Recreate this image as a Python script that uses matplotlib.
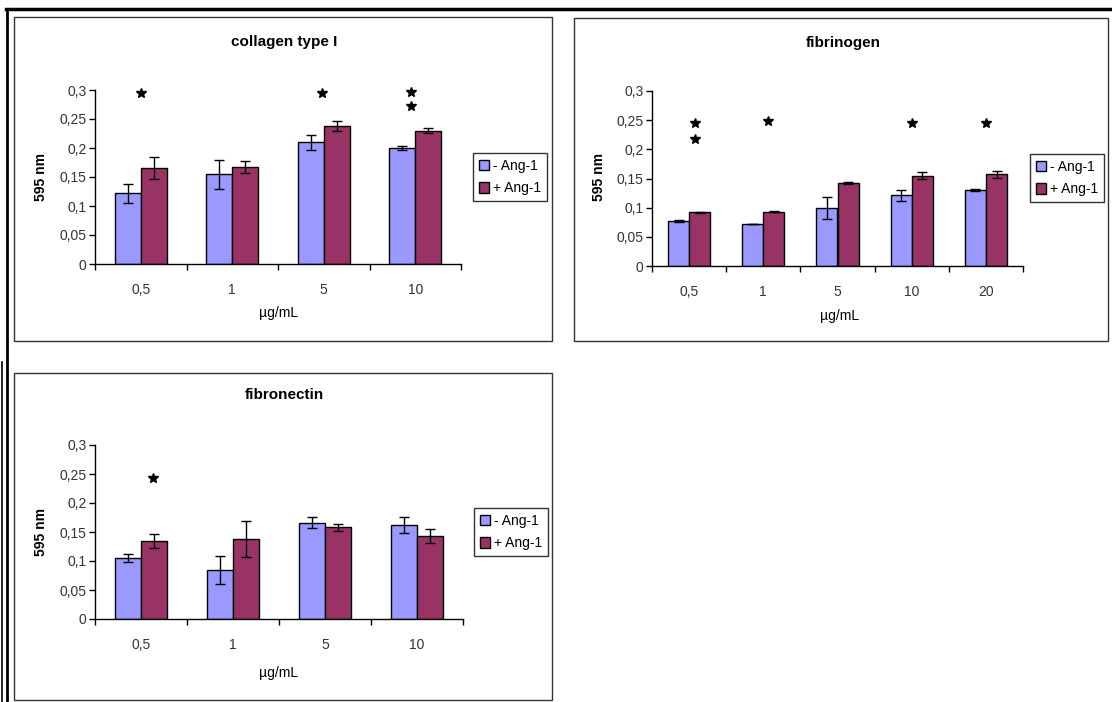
import matplotlib
matplotlib.use("Agg")
import matplotlib.pyplot as plt
from matplotlib.patches import Rectangle, Patch
from matplotlib.lines import Line2D
from matplotlib.ticker import FuncFormatter
import numpy as np

plt.rcParams['font.family'] = ['Liberation Sans', 'DejaVu Sans']

# collagen type I
coll_cats = ['0,5', '1', '5', '10']
coll_minus = [0.122, 0.155, 0.210, 0.200]
coll_minus_err = [0.016, 0.025, 0.013, 0.004]
coll_plus = [0.165, 0.167, 0.238, 0.230]
coll_plus_err = [0.019, 0.010, 0.009, 0.004]
coll_star_x = [0.0, 1.98, 2.95, 2.95]
coll_star_y = [0.294, 0.294, 0.296, 0.272]

# fibrinogen
fib_cats = ['0,5', '1', '5', '10', '20']
fib_minus = [0.077, 0.072, 0.100, 0.121, 0.130]
fib_minus_err = [0.002, 0.0, 0.019, 0.010, 0.002]
fib_plus = [0.092, 0.093, 0.142, 0.155, 0.157]
fib_plus_err = [0.001, 0.001, 0.002, 0.006, 0.006]
fib_star_x = [0.08, 0.08, 1.06, 3.01, 4.0]
fib_star_y = [0.245, 0.217, 0.249, 0.245, 0.245]

# fibronectin
fn_cats = ['0,5', '1', '5', '10']
fn_minus = [0.105, 0.085, 0.166, 0.162]
fn_minus_err = [0.007, 0.024, 0.0095, 0.014]
fn_plus = [0.134, 0.138, 0.158, 0.143]
fn_plus_err = [0.012, 0.031, 0.006, 0.012]
fn_star_x = [0.13]
fn_star_y = [0.243]

C_MINUS = '#9999FF'
C_PLUS = '#993366'
W, H = 1112, 702

fig = plt.figure(figsize=(W / 100, H / 100), dpi=100)


def fx(px):
    return px / W


def fy(py):
    return 1 - py / H


# outer frame lines
fig.add_artist(Line2D([fx(6), 1], [fy(9), fy(9)], color='black', lw=2.5, transform=fig.transFigure))
fig.add_artist(Line2D([fx(7), fx(7)], [0, fy(9)], color='black', lw=2, transform=fig.transFigure))
fig.add_artist(Line2D([fx(2), fx(2)], [0, fy(362)], color='black', lw=1.2, transform=fig.transFigure))

# panel boxes (px: x0, y0, x1, y1)
for x0, y0, x1, y1 in [(14, 17, 552, 341), (574, 18, 1108, 341), (14, 373, 552, 700)]:
    fig.add_artist(Rectangle((fx(x0), fy(y1)), fx(x1 - x0), (y1 - y0) / H,
                             fill=False, edgecolor='#333333', lw=1, transform=fig.transFigure))


def panel(rect, cats, minus, minus_err, plus, plus_err, star_x, star_y,
          title, title_xy, xlab_xy, ylab_xy, leg_xy):
    ax = fig.add_axes(rect)
    x = np.arange(len(cats))
    bw = 1 / 3.5
    ax.bar(x - bw / 2, minus, bw, color=C_MINUS, edgecolor='black', lw=1, zorder=2)
    ax.bar(x + bw / 2, plus, bw, color=C_PLUS, edgecolor='black', lw=1, zorder=2)
    ax.errorbar(x - bw / 2, minus, yerr=minus_err, fmt='none', ecolor='black',
                elinewidth=1, capsize=3.5, capthick=1, zorder=3)
    ax.errorbar(x + bw / 2, plus, yerr=plus_err, fmt='none', ecolor='black',
                elinewidth=1, capsize=3.5, capthick=1, zorder=3)
    ax.plot(star_x, star_y, ls='none', marker='*', color='black', ms=7, zorder=4,
            clip_on=False)

    ax.set_xlim(-0.5, len(cats) - 0.5)
    ax.set_ylim(0, 0.3)
    ax.set_yticks(np.arange(0, 0.301, 0.05))
    ax.yaxis.set_major_formatter(FuncFormatter(lambda v, p: f"{round(v, 2):g}".replace('.', ',')))
    ax.set_xticks(x)
    ax.set_xticklabels(cats)
    ax.set_xticks(np.arange(-0.5, len(cats)), minor=True)
    ax.tick_params(axis='x', which='major', length=0, pad=14, labelsize=10, labelcolor='#333333')
    ax.tick_params(axis='x', which='minor', length=4, direction='out', width=1)
    ax.tick_params(axis='y', length=4, direction='out', width=1, pad=2, labelsize=10,
                   labelcolor='#333333')
    for s in ['top', 'right']:
        ax.spines[s].set_visible(False)
    for s in ['left', 'bottom']:
        ax.spines[s].set_linewidth(1)
        ax.spines[s].set_color('black')
    ax.patch.set_alpha(0)

    fig.text(fx(title_xy[0]), fy(title_xy[1]), title, ha='center', va='center',
             fontsize=11, fontweight='bold')
    fig.text(fx(xlab_xy[0]), fy(xlab_xy[1]), 'µg/mL', ha='center', va='center', fontsize=10)
    fig.text(fx(ylab_xy[0]), fy(ylab_xy[1]), '595 nm', ha='center', va='center',
             fontsize=10, fontweight='bold', rotation=90)

    handles = [Patch(facecolor=C_MINUS, edgecolor='black', label='- Ang-1'),
               Patch(facecolor=C_PLUS, edgecolor='black', label='+ Ang-1')]
    leg = fig.legend(handles=handles, loc='center', bbox_to_anchor=(fx(leg_xy[0]), fy(leg_xy[1])),
                     fontsize=10, frameon=True, fancybox=False, handlelength=0.7,
                     handleheight=0.8, handletextpad=0.3, borderpad=0.45, labelspacing=0.6,
                     borderaxespad=0)
    leg.get_frame().set_edgecolor('black')
    leg.get_frame().set_linewidth(1)
    return ax


panel([fx(95), fy(264), fx(461 - 95), 174 / H], coll_cats, coll_minus, coll_minus_err,
      coll_plus, coll_plus_err, coll_star_x, coll_star_y, 'collagen type I',
      (284, 42), (279, 313), (41, 177), (510, 177))

panel([fx(652), fy(266), fx(1023 - 652), 175 / H], fib_cats, fib_minus, fib_minus_err,
      fib_plus, fib_plus_err, fib_star_x, fib_star_y, 'fibrinogen',
      (843, 43), (840, 316), (599, 177), (1067, 178))

panel([fx(95), fy(619), fx(463 - 95), 174 / H], fn_cats, fn_minus, fn_minus_err,
      fn_plus, fn_plus_err, fn_star_x, fn_star_y, 'fibronectin',
      (284, 395), (279, 673), (41, 532), (511, 532))

fig.savefig('out.png', dpi=100)
